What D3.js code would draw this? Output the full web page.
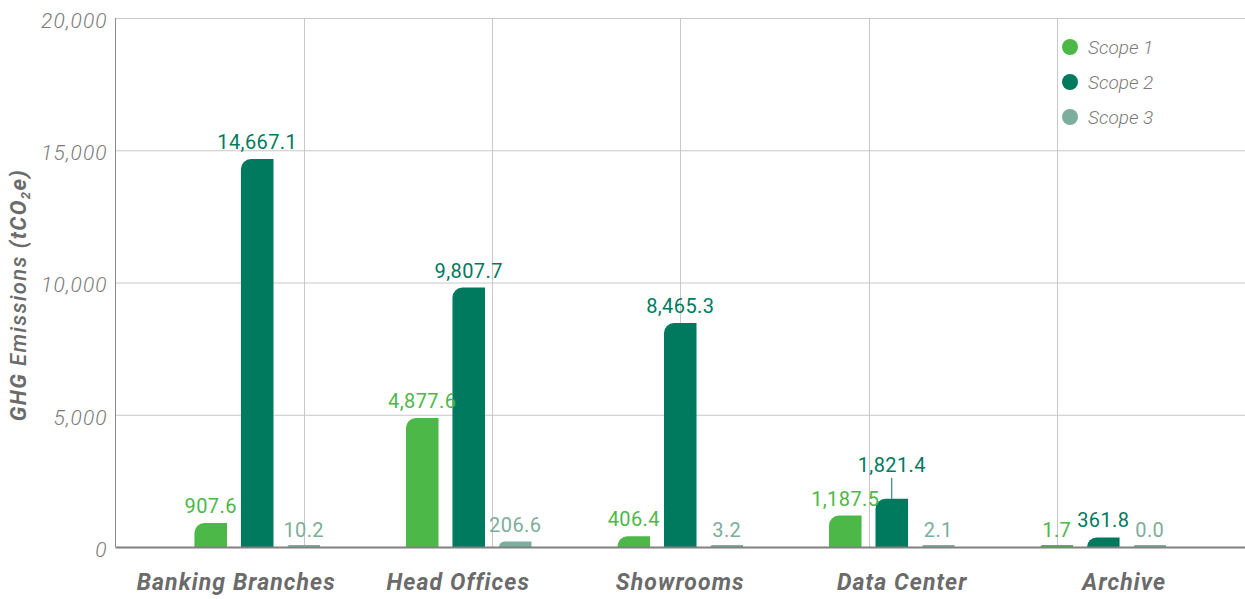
<!DOCTYPE html>
<html>
<head>
<meta charset="utf-8">
<script src="https://cdn.jsdelivr.net/npm/d3@7"></script>
<style>
  html, body { margin: 0; padding: 0; background: #fff; }
  svg { display: block; }
</style>
</head>
<body>
<svg id="chart" width="1245" height="599"></svg>
<script>
// GHG emissions by facility type, split by scope (tCO2e)
const categories = ["Banking Branches", "Head Offices", "Showrooms", "Data Center", "Archive"];
const seriesNames = ["Scope 1", "Scope 2", "Scope 3"];
const scope1 = [907.6, 4877.6, 406.4, 1187.5, 1.7];
const scope2 = [14667.1, 9807.7, 8465.3, 1821.4, 361.8];
const scope3 = [10.2, 206.6, 3.2, 2.1, 0.0];
const yTicks = [0, 5000, 10000, 15000, 20000];
const yTitle = "GHG Emissions (tCO₂e)";

const seriesValues = [scope1, scope2, scope3];
const colors = ["#4cb848", "#007a5e", "#7bae9c"];

const W = 1245, H = 599;
const plot = { left: 115.5, right: 1245, top: 18, bottom: 547 };

const svg = d3.select("#chart");

const y = d3.scaleLinear().domain([0, 20000]).range([plot.bottom, plot.top]);

// category axis spans the plot; bar groups sit slightly inset
const xAxisScale = d3.scaleBand().domain(categories).range([plot.left, plot.right])
  .paddingInner(0).paddingOuter(0.044);
const xGroup = d3.scaleBand().domain(categories).range([plot.left, plot.right])
  .paddingInner(0).paddingOuter(0.17);
const xSeries = d3.scaleBand().domain(seriesNames)
  .range([0, xGroup.bandwidth()]).paddingInner(0.3).paddingOuter(0.924);

// vertical grid divisions
const xGrid = d3.scaleLinear().domain([0, 6]).range([plot.left, plot.right]);

const grid = svg.append("g");
grid.selectAll("line.h")
  .data(yTicks.filter(t => t > 0))
  .join("line")
  .attr("x1", plot.left).attr("x2", plot.right)
  .attr("y1", d => y(d) + 0.5).attr("y2", d => y(d) + 0.5)
  .attr("stroke", "#c8c8c8").attr("stroke-width", 1);
grid.selectAll("line.v")
  .data(d3.range(1, 6))
  .join("line")
  .attr("x1", d => Math.round(xGrid(d)) + 0.5).attr("x2", d => Math.round(xGrid(d)) + 0.5)
  .attr("y1", plot.top).attr("y2", plot.bottom)
  .attr("stroke", "#c8c8c8").attr("stroke-width", 1);

// left axis line
svg.append("line")
  .attr("x1", plot.left).attr("x2", plot.left)
  .attr("y1", plot.top).attr("y2", plot.bottom)
  .attr("stroke", "#8a8a8a").attr("stroke-width", 1);

// y tick labels
const yAxis = svg.append("g")
  .attr("transform", `translate(${plot.left},0)`)
  .call(d3.axisLeft(y).tickValues(yTicks).tickFormat(d3.format(",")).tickSize(0).tickPadding(8));
yAxis.select(".domain").remove();
yAxis.selectAll("text")
  .attr("dy", "0.45em")
  .attr("font-family", "Roboto, sans-serif")
  .attr("font-weight", 300)
  .attr("font-style", "italic")
  .attr("font-size", 21)
  .attr("letter-spacing", 1)
  .attr("fill", "#7a7a7a");

// y axis title
const title = svg.append("text")
  .attr("transform", `translate(26,${295}) rotate(-90)`)
  .attr("text-anchor", "middle")
  .attr("font-family", "Roboto, sans-serif")
  .attr("font-style", "italic")
  .attr("font-size", 22)
  .attr("letter-spacing", 1.4)
  .attr("fill", "#6b6b6b");
title.append("tspan").attr("font-weight", 700).text("GHG ");
title.append("tspan").attr("font-weight", 500).text("Emissions ");
title.append("tspan").attr("font-weight", 700).text("(tCO");
title.append("tspan").attr("font-weight", 700).attr("font-size", 13).attr("dy", 4).text("2");
title.append("tspan").attr("font-weight", 700).attr("dy", -4).text("e)");

// bar shape: flat bottom, rounded top-left corner
function barPath(x, yTop, w, yBase) {
  const h = yBase - yTop;
  const r = Math.min(10, h, w / 2);
  return `M${x},${yBase}L${x},${yTop + r}A${r},${r} 0 0 1 ${x + r},${yTop}` +
         `L${x + w},${yTop}L${x + w},${yBase}Z`;
}

const rows = [];
categories.forEach((c, i) => {
  seriesNames.forEach((s, j) => {
    rows.push({ category: c, series: s, si: j, value: seriesValues[j][i] });
  });
});

const minBarPx = 2;
const bars = svg.append("g");
bars.selectAll("path")
  .data(rows)
  .join("path")
  .attr("d", d => {
    const x = xGroup(d.category) + xSeries(d.series);
    const yTop = Math.min(y(d.value), plot.bottom - minBarPx);
    return barPath(x, yTop, xSeries.bandwidth(), plot.bottom);
  })
  .attr("fill", d => colors[d.si]);

// bottom axis line
svg.append("line")
  .attr("x1", plot.left).attr("x2", plot.right)
  .attr("y1", plot.bottom + 0.5).attr("y2", plot.bottom + 0.5)
  .attr("stroke", "#808080").attr("stroke-width", 2);

// value labels; crowded ones are lifted with a leader line
const lifted = { "Data Center|Scope 2": 17 };
const fmt = d3.format(",.1f");
const labels = svg.append("g");
rows.forEach(d => {
  const cx = xGroup(d.category) + xSeries(d.series) + xSeries.bandwidth() / 2;
  const yTop = Math.min(y(d.value), plot.bottom - minBarPx);
  const lift = lifted[d.category + "|" + d.series] || 0;
  const base = yTop - (d.value < 50 ? 8 : 10) - lift;
  if (lift) {
    labels.append("line")
      .attr("x1", cx).attr("x2", cx)
      .attr("y1", yTop).attr("y2", base + 6)
      .attr("stroke", colors[d.si]).attr("stroke-width", 1);
  }
  labels.append("text")
    .attr("x", cx).attr("y", base)
    .attr("text-anchor", "middle")
    .attr("font-family", "Roboto, sans-serif")
    .attr("font-size", 20)
    .attr("letter-spacing", 0.4)
    .attr("fill", colors[d.si])
    .text(fmt(d.value));
});

// category labels
const xAxis = svg.append("g")
  .attr("transform", `translate(0,${plot.bottom})`)
  .call(d3.axisBottom(xAxisScale).tickSize(0).tickPadding(0));
xAxis.select(".domain").remove();
xAxis.selectAll("text")
  .attr("y", 43).attr("dy", 0)
  .attr("font-family", "Roboto, sans-serif")
  .attr("font-weight", 700)
  .attr("font-style", "italic")
  .attr("font-size", 23)
  .attr("letter-spacing", 1.1)
  .attr("fill", "#6b6b6b");

// legend
const legend = svg.append("g");
seriesNames.forEach((s, j) => {
  const ly = 47 + j * 35;
  legend.append("circle").attr("cx", 1070).attr("cy", ly).attr("r", 8).attr("fill", colors[j]);
  legend.append("text")
    .attr("x", 1088).attr("y", ly + 7)
    .attr("font-family", "Roboto, sans-serif")
    .attr("font-weight", 300)
    .attr("font-style", "italic")
    .attr("font-size", 19)
    .attr("fill", "#7a7a7a")
    .text(s);
});
</script>
</body>
</html>
